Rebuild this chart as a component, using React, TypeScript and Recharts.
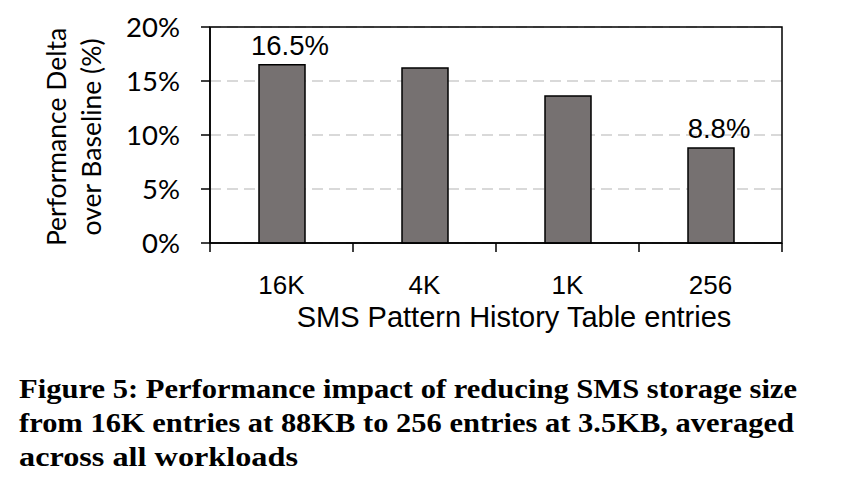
import React from 'react';
import { BarChart, Bar, XAxis, YAxis, CartesianGrid, LabelList, ReferenceArea } from 'recharts';

const categories = ['16K', '4K', '1K', '256'];
const deltas = [16.5, 16.2, 13.6, 8.8];
const barLabels = ['16.5%', '', '', '8.8%'];
const yTicks = [0, 5, 10, 15, 20];
const captionLines = [
  'Figure 5: Performance impact of reducing SMS storage size',
  'from 16K entries at 88KB to 256 entries at 3.5KB, averaged',
  'across all workloads',
];
const captionWidths = [778, 775, 279];

const data = categories.map((c, i) => ({ name: c, value: deltas[i], label: barLabels[i] }));

const XTick = (props: any) => {
  const { x, y, payload, index, visibleTicksCount } = props;
  const half = payload && payload.offset ? payload.offset : 71.5;
  const isLast = index === visibleTicksCount - 1;
  return (
    <g>
      <line x1={x - half} x2={x - half} y1={y} y2={y + 9} stroke="#000" strokeWidth={1.5} />
      {isLast && <line x1={x + half} x2={x + half} y1={y} y2={y + 9} stroke="#000" strokeWidth={1.5} />}
      <text x={x} y={y + 51} textAnchor="middle" fontFamily="'Liberation Sans', Arial, sans-serif" fontSize={26} fill="#000">
        {payload.value}
      </text>
    </g>
  );
};

const BarLabel = (props: any) => {
  const { x, y, width, value } = props;
  if (!value) return null;
  return (
    <text x={x + width / 2 + 8} y={y - 10} textAnchor="middle" fontFamily="'Liberation Sans', Arial, sans-serif" fontSize={27.5} fill="#000">
      {value}
    </text>
  );
};

const YLabel = (props: any) => {
  const vb = props.viewBox || {};
  const cy = (vb.y || 27) + (vb.height || 216) / 2 + 2;
  return (
    <g fontFamily="Lato, 'Noto Sans', sans-serif" fontSize={26.5} fill="#000">
      <text x={56} y={cy} textAnchor="middle" dominantBaseline="central" transform={`rotate(-90 56 ${cy})`}>Performance Delta</text>
      <text x={91} y={cy} textAnchor="middle" dominantBaseline="central" transform={`rotate(-90 91 ${cy})`}>over Baseline (%)</text>
    </g>
  );
};

const XLabel = (props: any) => {
  const vb = props.viewBox || {};
  const cx = (vb.x || 210) + (vb.width || 572) / 2 + 18;
  return (
    <text x={cx} y={327} textAnchor="middle" fontFamily="'Liberation Sans', Arial, sans-serif" fontSize={29} fill="#000">
      SMS Pattern History Table entries
    </text>
  );
};

export default function App() {
  return (
    <div style={{ position: 'absolute', left: 0, top: 0, width: 847, height: 478, background: '#fff' }}>
      <BarChart width={847} height={345} data={data} margin={{ top: 27, right: 65, bottom: 0, left: 0 }}>
        <CartesianGrid vertical={false} stroke="#d9d9d9" strokeDasharray="11 6" strokeWidth={2} />
        <XAxis
          dataKey="name"
          axisLine={{ stroke: '#000', strokeWidth: 1.5 }}
          tickLine={false}
          tickSize={0}
          tickMargin={0}
          tick={<XTick />}
          interval={0}
          height={102}
          label={<XLabel />}
        />
        <YAxis
          domain={[0, 20]}
          ticks={yTicks}
          width={210}
          tickSize={9}
          tickMargin={21}
          tickFormatter={(v: number) => `${v}%`}
          tick={{ fontFamily: "Lato, 'Noto Sans', sans-serif", fontSize: 27.5, fill: '#000' }}
          axisLine={{ stroke: '#000', strokeWidth: 1.5 }}
          tickLine={{ stroke: '#000', strokeWidth: 1.5 }}
          label={<YLabel />}
        />
        <ReferenceArea y1={0} y2={20} fill="none" stroke="#000" strokeWidth={1.5} ifOverflow="visible" />
        <Bar dataKey="value" fill="#767171" stroke="#000" strokeWidth={1.5} barSize={46} isAnimationActive={false}>
          <LabelList dataKey="label" content={<BarLabel />} />
        </Bar>
      </BarChart>
      <svg width={847} height={133} style={{ position: 'absolute', left: 0, top: 345 }}>
        {captionLines.map((line, i) => (
          <text
            key={i}
            x={19}
            y={53 + i * 34}
            fontFamily="'Liberation Serif', 'Times New Roman', serif"
            fontWeight="bold"
            fontSize={27}
            fill="#000"
            textLength={captionWidths[i]}
            lengthAdjust="spacingAndGlyphs"
          >
            {line}
          </text>
        ))}
      </svg>
    </div>
  );
}
